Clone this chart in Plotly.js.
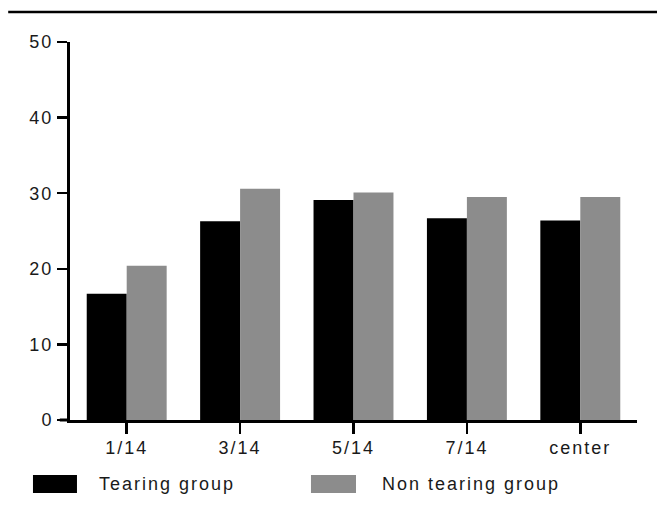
<!DOCTYPE html>
<html>
<head>
<meta charset="utf-8">
<script src="https://cdn.plot.ly/plotly-3.0.1.min.js"></script>
<style>
body { margin: 0; background: #fff; }
.xtick text, .ytick text, .annotation-text { letter-spacing: 2px; }
</style>
</head>
<body>
<div id="chart" style="width:657px;height:509px;"></div>
<script>
const categories = ['1/14', '3/14', '5/14', '7/14', 'center'];
const tearing = [16.7, 26.3, 29.1, 26.7, 26.4];
const nonTearing = [20.4, 30.6, 30.1, 29.5, 29.5];
const seriesNames = ['Tearing group', 'Non tearing group'];
const seriesColors = ['#000000', '#8c8c8c'];
const yTicks = [0, 10, 20, 30, 40, 50];

const font = { family: 'Liberation Sans, Arial, sans-serif', size: 18, color: '#1a1a1a' };

const traces = [
  { type: 'bar', name: seriesNames[0], x: categories, y: tearing, marker: { color: seriesColors[0] }, showlegend: false },
  { type: 'bar', name: seriesNames[1], x: categories, y: nonTearing, marker: { color: seriesColors[1] }, showlegend: false }
];

const layout = {
  width: 657, height: 509,
  margin: { l: 70, r: 20, t: 42, b: 89 },
  paper_bgcolor: '#ffffff', plot_bgcolor: '#ffffff',
  font: font,
  barmode: 'group', bargap: 0.295, bargroupgap: 0,
  xaxis: {
    type: 'category', range: [-0.5, 4.5],
    showline: true, linecolor: '#000', linewidth: 3,
    ticks: 'outside', ticklen: 11, tickwidth: 2.5, tickcolor: '#000',
    ticklabelstandoff: -2,
    showgrid: false, zeroline: false, tickfont: font
  },
  yaxis: {
    range: [0, 50], tickvals: yTicks, ticktext: yTicks.map(String),
    showline: true, linecolor: '#000', linewidth: 3,
    ticks: 'outside', ticklen: 10, tickwidth: 2.5, tickcolor: '#000',
    showgrid: false, zeroline: false, tickfont: font
  },
  shapes: [
    { type: 'line', xref: 'paper', yref: 'paper', x0: -0.109, x1: 1.04, y0: 1.0794, y1: 1.0794, line: { color: '#000', width: 2.5 } },
    { type: 'line', xref: 'paper', yref: 'paper', x0: -0.018, x1: 0, y0: 0, y1: 0, line: { color: '#000', width: 3 } },
    { type: 'rect', xref: 'paper', yref: 'paper', x0: -0.0653, x1: 0.0123, y0: -0.1931, y1: -0.1455, fillcolor: seriesColors[0], line: { width: 0 } },
    { type: 'rect', xref: 'paper', yref: 'paper', x0: 0.425, x1: 0.5044, y0: -0.1931, y1: -0.1455, fillcolor: seriesColors[1], line: { width: 0 } }
  ],
  annotations: [
    { xref: 'paper', yref: 'paper', x: 0.0476, y: -0.169, xanchor: 'left', yanchor: 'middle', text: seriesNames[0], showarrow: false, font: font },
    { xref: 'paper', yref: 'paper', x: 0.5467, y: -0.169, xanchor: 'left', yanchor: 'middle', text: seriesNames[1], showarrow: false, font: font }
  ]
};

Plotly.newPlot('chart', traces, layout, { displayModeBar: false, staticPlot: true });
</script>
</body>
</html>
